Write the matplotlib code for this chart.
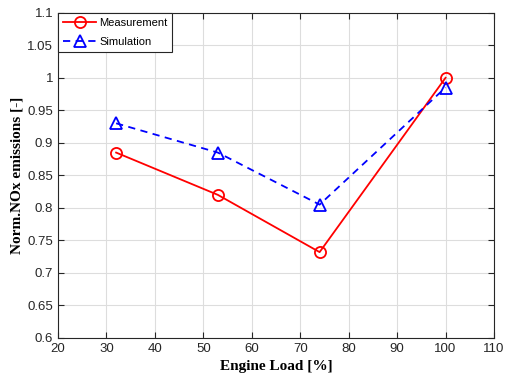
import matplotlib
matplotlib.use("Agg")
import matplotlib.pyplot as plt

load = [32, 53, 74, 100]
measurement = [0.885, 0.82, 0.732, 1.0]
simulation = [0.93, 0.885, 0.805, 0.985]

xticks = [20, 30, 40, 50, 60, 70, 80, 90, 100, 110]
yticks = [0.6, 0.65, 0.7, 0.75, 0.8, 0.85, 0.9, 0.95, 1.0, 1.05, 1.1]
ytick_labels = ['0.6', '0.65', '0.7', '0.75', '0.8', '0.85', '0.9', '0.95', '1', '1.05', '1.1']

plt.rcParams['font.family'] = ['Liberation Sans', 'DejaVu Sans']

fig = plt.figure(figsize=(5.08, 3.78), dpi=100)
ax = fig.add_axes([58/508, 1 - 338/378, (494-58)/508, (338-12.7)/378])

ax.plot(load, measurement, '-o', color='#ff0000', lw=1.3, ms=8, mfc='none', mew=1.3, label='Measurement')
ax.plot(load, simulation, '--^', color='#0000ff', lw=1.3, ms=8, mfc='none', mew=1.3, label='Simulation',
        dashes=(4, 3))

ax.set_xlim(20, 110)
ax.set_ylim(0.6, 1.1)
ax.set_xticks(xticks)
ax.set_yticks(yticks)
ax.set_yticklabels(ytick_labels)
ax.grid(True, color='#dddddd', lw=0.8)
ax.set_axisbelow(True)
ax.tick_params(direction='in', top=True, right=True, labelsize=9.5, colors='#262626', length=4)
for s in ax.spines.values():
    s.set_color('#262626')
    s.set_linewidth(0.8)

ax.set_xlabel('Engine Load [%]', family='Liberation Serif', fontweight='bold', fontsize=11, labelpad=4)
ax.set_ylabel('Norm.NOx emissions [-]', family='Liberation Serif', fontweight='bold', fontsize=11, labelpad=3)

leg = ax.legend(loc='upper left', fontsize=8, fancybox=False, framealpha=1, edgecolor='#262626',
                borderaxespad=0, handlelength=3.0, borderpad=0.45, labelspacing=0.85, handletextpad=0.25)
leg.get_frame().set_linewidth(0.8)

fig.savefig('out.png', dpi=100)
